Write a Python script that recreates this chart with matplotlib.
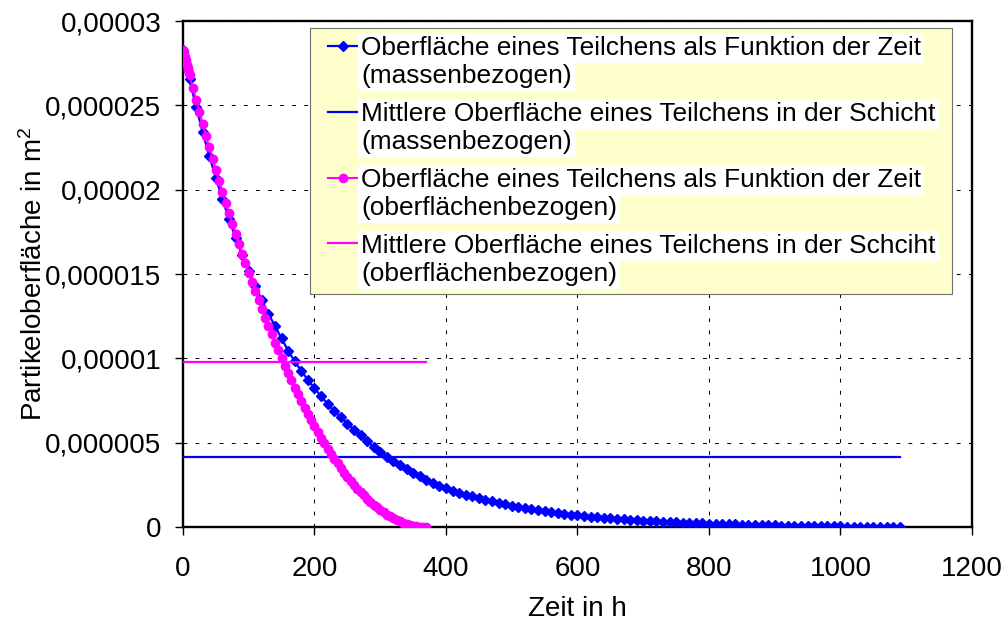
import matplotlib
matplotlib.use("Agg")
import matplotlib.pyplot as plt
from matplotlib.lines import Line2D
from matplotlib.legend_handler import HandlerLine2D
from matplotlib.offsetbox import VPacker

plt.rcParams['font.family'] = ['Liberation Sans', 'DejaVu Sans']
plt.rcParams['mathtext.fontset'] = 'custom'
plt.rcParams['mathtext.rm'] = 'Liberation Sans'
plt.rcParams['mathtext.it'] = 'Liberation Sans'

# surface values are given in 1e-6 m^2
UNIT = 1e-6

# particle surface over time, mass-weighted (h, 1e-6 m^2)
time_mass = [
    0, 10, 20, 30, 40, 50, 60, 70, 80, 90, 100, 110, 120, 130, 140, 150, 160,
    170, 180, 190, 200, 210, 220, 230, 240, 250, 260, 270, 280, 290, 300, 310,
    320, 330, 340, 350, 360, 370, 380, 390, 400, 410, 420, 430, 440, 450, 460,
    470, 480, 490, 500, 510, 520, 530, 540, 550, 560, 570, 580, 590, 600, 610,
    620, 630, 640, 650, 660, 670, 680, 690, 700, 710, 720, 730, 740, 750, 760,
    770, 780, 790, 800, 810, 820, 830, 840, 850, 860, 870, 880, 890, 900, 910,
    920, 930, 940, 950, 960, 970, 980, 990, 1000, 1010, 1020, 1030, 1040, 1050,
    1060, 1070, 1080, 1090,
]
surface_mass = [
    28.30, 26.55, 24.90, 23.40, 22.00, 20.70, 19.45, 18.25, 17.15, 16.12,
    15.17, 14.28, 13.44, 12.65, 11.90, 11.18, 10.45, 9.82, 9.25, 8.72,
    8.22, 7.75, 7.30, 6.88, 6.50, 6.13, 5.78, 5.45, 5.08, 4.76,
    4.46, 4.18, 3.92, 3.67, 3.44, 3.22, 3.01, 2.81, 2.62, 2.45,
    2.29, 2.16, 2.04, 1.92, 1.81, 1.71, 1.61, 1.52, 1.43, 1.35,
    1.27, 1.20, 1.13, 1.06, 1.00, 0.94, 0.88, 0.83, 0.78, 0.73,
    0.69, 0.65, 0.61, 0.58, 0.545, 0.515, 0.485, 0.455, 0.43, 0.405,
    0.38, 0.36, 0.34, 0.32, 0.30, 0.28, 0.265, 0.25, 0.235, 0.22,
    0.205, 0.19, 0.18, 0.165, 0.155, 0.145, 0.135, 0.125, 0.115, 0.105,
    0.097, 0.089, 0.081, 0.074, 0.067, 0.060, 0.054, 0.048, 0.042, 0.036,
    0.031, 0.026, 0.021, 0.017, 0.013, 0.010, 0.007, 0.004, 0.002, 0.0,
]

# particle surface over time, surface-weighted (h, 1e-6 m^2)
time_surf = [
    0, 1, 2, 3, 4, 5, 6, 7, 8, 9, 10, 15, 20, 25, 30, 35, 40, 45, 50, 55, 60,
    65, 70, 75, 80, 85, 90, 95, 100, 105, 110, 115, 120, 125, 130, 135, 140,
    145, 150, 155, 160, 165, 170, 175, 180, 185, 190, 195, 200, 205, 210, 215,
    220, 225, 230, 235, 240, 245, 250, 255, 260, 265, 270, 275, 280, 285, 290,
    295, 300, 305, 310, 315, 320, 325, 330, 335, 340, 345, 350, 355, 360, 365,
    370,
]
surface_surf = [
    28.30, 28.15, 28.00, 27.84, 27.69, 27.54, 27.39, 27.24, 27.09, 26.94,
    26.79, 26.05, 25.32, 24.61, 23.90, 23.20, 22.51, 21.84, 21.17, 20.51,
    19.87, 19.23, 18.61, 17.99, 17.39, 16.79, 16.21, 15.63, 15.07, 14.52,
    13.97, 13.44, 12.92, 12.41, 11.91, 11.42, 10.94, 10.47, 10.01, 9.56,
    9.12, 8.69, 8.27, 7.86, 7.46, 7.08, 6.70, 6.33, 5.97, 5.63,
    5.29, 4.97, 4.65, 4.35, 4.05, 3.77, 3.49, 3.23, 2.98, 2.73,
    2.50, 2.28, 2.07, 1.87, 1.67, 1.49, 1.32, 1.16, 1.01, 0.87,
    0.74, 0.63, 0.52, 0.42, 0.33, 0.25, 0.19, 0.13, 0.08, 0.05,
    0.02, 0.01, 0.0,
]

# mean particle surface within the layer (start/end time, value)
mean_mass_time = [0, 1090]
mean_mass_value = 4.16
mean_surf_time = [0, 370]
mean_surf_value = 9.76

x_ticks = [0, 200, 400, 600, 800, 1000, 1200]
y_ticks = [0, 5e-6, 1e-5, 1.5e-5, 2e-5, 2.5e-5, 3e-5]
y_tick_labels = ["0", "0,000005", "0,00001", "0,000015", "0,00002",
                 "0,000025", "0,00003"]

legend_lines = [
    ("Oberfläche eines Teilchens als Funktion der Zeit", "(massenbezogen)"),
    ("Mittlere Oberfläche eines Teilchens in der Schicht", "(massenbezogen)"),
    ("Oberfläche eines Teilchens als Funktion der Zeit", "(oberflächenbezogen)"),
    ("Mittlere Oberfläche eines Teilchens in der Schciht", "(oberflächenbezogen)"),
]

BLUE = "#0000FF"
MAGENTA = "#FF00FF"


def scaled(values):
    return [v * UNIT for v in values]


fig = plt.figure(figsize=(10.06, 6.22), dpi=100)
ax = fig.add_axes([0.1819, 0.1527, 0.7843, 0.8135])

h1, = ax.plot(time_mass, scaled(surface_mass), color=BLUE, lw=1.6,
              marker="D", ms=5.0, mec=BLUE, mfc=BLUE, zorder=3)
h2, = ax.plot(mean_mass_time, scaled([mean_mass_value] * 2), color=BLUE,
              lw=1.6, zorder=3)
h3, = ax.plot(time_surf, scaled(surface_surf), color=MAGENTA, lw=1.5,
              marker="o", ms=6, mec=MAGENTA, mfc=MAGENTA, zorder=4)
h4, = ax.plot(mean_surf_time, scaled([mean_surf_value] * 2), color=MAGENTA,
              lw=1.6, zorder=4)

ax.set_xlim(0, 1200)
ax.set_ylim(0, 3e-5)
ax.set_xticks(x_ticks)
ax.set_yticks(y_ticks, y_tick_labels)
ax.grid(True, color="black", lw=0.75, linestyle=(0, (3.6, 8)))
ax.set_axisbelow(True)
for s in ax.spines.values():
    s.set_linewidth(1.7)
    s.set_color("black")
ax.tick_params(axis="both", direction="out", length=6, width=1.0,
               labelsize=20, colors="black")
ax.tick_params(axis="x", pad=15)
ax.tick_params(axis="y", pad=9.5)
ax.set_xlabel("Zeit in h", fontsize=20, labelpad=10)
ax.set_ylabel("Partikeloberfläche in m$^2$", fontsize=20, labelpad=-2)


class InsetLineHandler(HandlerLine2D):
    """Line handler that leaves some blank space left of the sample line."""

    def __init__(self, inset, **kw):
        super().__init__(**kw)
        self.inset = inset

    def create_artists(self, legend, orig_handle, xdescent, ydescent,
                       width, height, fontsize, trans):
        s = self.inset * fontsize
        return super().create_artists(legend, orig_handle, xdescent - s,
                                      ydescent, width - s, height,
                                      fontsize, trans)


blank = Line2D([], [], linestyle="none")
handles, labels = [], []
for h, (first, second) in zip([h1, h2, h3, h4], legend_lines):
    handles += [h, blank]
    labels += [first, second]

leg = ax.legend(handles, labels, loc="upper left",
                bbox_to_anchor=(0.161, 0.0, 0.8137, 0.9862), mode="expand",
                borderaxespad=0, borderpad=0.3, handlelength=1.5,
                handletextpad=0.15, fontsize=18.9, fancybox=False,
                framealpha=1, facecolor="#FFFFCC", edgecolor="#707070",
                handler_map={Line2D: InsetLineHandler(0.38)})
leg.get_frame().set_linewidth(0.8)
for t in leg.get_texts():
    t.set_bbox(dict(boxstyle="square,pad=0.115", fc="white", ec="none"))

# keep the two text lines of an entry together, with a gap between entries
column = leg._legend_handle_box.get_children()[0]
rows = column.get_children()
column._children = [VPacker(pad=0, sep=2.9, align="baseline",
                            children=rows[i:i + 2])
                    for i in range(0, len(rows), 2)]
column.sep = 10.0

fig.savefig("out.png", dpi=100)
